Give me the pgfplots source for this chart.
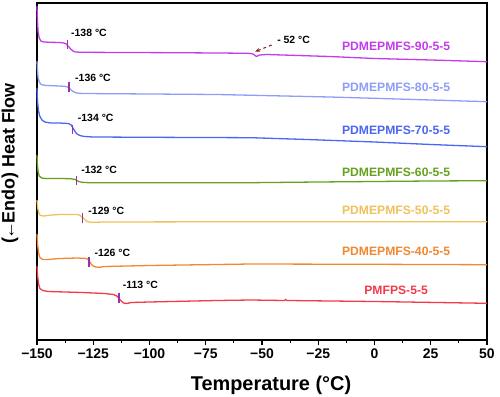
\documentclass[border=0pt]{standalone}
\usepackage{pgfplots}
\pgfplotsset{compat=1.18}
\usepackage{fontspec}
\setmainfont{Liberation Sans}
\usetikzlibrary{arrows.meta}
\definecolor{c90}{HTML}{C23CEB}
\definecolor{c80}{HTML}{8C9EF7}
\definecolor{c70}{HTML}{4A66F2}
\definecolor{c60}{HTML}{66A11E}
\definecolor{c50}{HTML}{EEC25A}
\definecolor{c40}{HTML}{F08832}
\definecolor{c00}{HTML}{F23A48}
\definecolor{tgm}{HTML}{9A2FA6}
\definecolor{arr}{HTML}{8B1A1A}
\begin{document}
\begin{tikzpicture}
\begin{axis}[
  at={(0,0)}, anchor=south west, scale only axis, width=450bp, height=337bp,
  xmin=-150, xmax=50, ymin=-340, ymax=-3,
  axis line style={line width=1.3pt},
  xtick={-150,-125,-100,-75,-50,-25,0,25,50},
  xticklabels={−150,−125,−100,−75,−50,−25,0,25,50},
  minor x tick num=1,
  ytick=\empty,
  tick align=outside, xtick pos=bottom,
  major tick length=5bp, minor tick length=3bp,
  every tick/.style={line width=1.2pt, black},
  xticklabel style={font=\fontsize{14}{16}\selectfont\bfseries},
  xlabel={Temperature (°C)}, ylabel={(\kern-2pt←\kern-2.5pt Endo) Heat Flow},
  every axis x label/.style={at={(axis description cs:0.52,0)}, yshift=-45bp, anchor=center, font=\fontsize{20}{24}\selectfont\bfseries},
  every axis y label/.style={at={(axis description cs:0,0.525)}, xshift=-27bp, rotate=90, anchor=center, font=\fontsize{18}{22}\selectfont\bfseries},
  clip=false,
  every axis plot/.append style={line width=1.3pt},
]
% PDMEPMFS-90-5-5
\addplot[c90] coordinates {(-150,-6)(-149.8,-20)(-149.5,-32)(-149.0,-38)(-148.3,-41)(-147,-42)(-144,-42.3)(-140,-42.5)(-138,-43)(-137,-44)(-136,-46.5)(-135,-49)(-134,-51)(-133,-52)(-130,-52.3)(-110,-52.5)(-90,-52.7)(-70,-53)(-56,-53.3)(-54,-54)(-52.5,-56.5)(-51,-55)(-48,-54.5)(-20,-56.5)(0,-58.5)(25,-60)(50,-61.7)};
% PDMEPMFS-80-5-5
\addplot[c80] coordinates {(-150,-61)(-149.8,-70)(-149.5,-78)(-149,-82)(-148.2,-84.5)(-146,-85.5)(-140,-86)(-137,-86.5)(-136,-87.5)(-135,-89.5)(-134,-91.5)(-132.5,-93)(-130,-93.5)(-100,-94)(-70,-94.5)(-50,-95.5)(-20,-97)(0,-98.3)(25,-100)(50,-101.7)};
% PDMEPMFS-70-5-5
\addplot[c70] coordinates {(-150,-88)(-149.8,-100)(-149.4,-110)(-148.8,-116)(-147.8,-120)(-146.5,-122)(-144,-123)(-140,-123)(-136,-123.5)(-134.8,-125)(-133.5,-130)(-132.5,-133.5)(-131,-135.5)(-129,-136.5)(-125,-137)(-100,-137.3)(-55,-137.7)(-30,-139.5)(0,-142)(25,-144.5)(50,-146.7)};
% PDMEPMFS-60-5-5
\addplot[c60] coordinates {(-150,-155)(-149.8,-165)(-149.5,-172)(-149,-176)(-148,-178)(-146,-178.5)(-140,-178.5)(-135,-178.7)(-133,-179.5)(-131.5,-181.5)(-130,-182.3)(-127,-182.7)(-100,-182.7)(-55,-182.7)(-25,-182)(0,-181.5)(25,-181)(50,-180.7)};
% PDMEPMFS-50-5-5
\addplot[c50] coordinates {(-150,-200)(-149.7,-208)(-149.2,-213)(-148.5,-215.5)(-147,-216)(-145,-215.3)(-140,-214.5)(-132,-214.5)(-130.8,-215.5)(-129,-219)(-127.8,-221.5)(-126,-222.3)(-120,-222)(-55,-221.7)(0,-221.7)(50,-221.7)};
% PDMEPMFS-40-5-5
\addplot[c40] coordinates {(-150,-234)(-149.7,-245)(-149.3,-253)(-148.7,-257.5)(-147.5,-259.5)(-145,-259.5)(-140,-258.5)(-132,-258)(-128,-258.5)(-127,-260)(-125.8,-264.5)(-124.5,-266.7)(-122.5,-267.3)(-120,-266.5)(-100,-265.5)(-55,-264)(0,-264.3)(50,-264.7)};
% PMFPS-5-5
\addplot[c00] coordinates {(-150,-266)(-149.7,-276)(-149.3,-284)(-148.7,-288.5)(-147.5,-290.5)(-145,-291.5)(-130,-292.5)(-120,-293.5)(-116,-294.5)(-114.5,-296)(-112.8,-300.5)(-111.5,-303)(-110.2,-303.5)(-108,-302.5)(-100,-302)(-70,-300.5)(-55,-300)(-40,-300.5)(-39.5,-299.5)(-39,-300.5)(0,-301.5)(50,-303.3)};
% Tg markers
\addplot[tgm] coordinates {(-136.5,-40)(-136.5,-49.3)};
\addplot[tgm] coordinates {(-135.8,-81.7)(-135.8,-91.7)};
\addplot[tgm] coordinates {(-134.1,-125)(-134.1,-134.3)};
\addplot[tgm] coordinates {(-132.4,-176)(-132.4,-185)};
\addplot[tgm] coordinates {(-129.9,-213.3)(-129.9,-222.7)};
\addplot[tgm] coordinates {(-126.9,-256.7)(-126.9,-266.7)};
\addplot[tgm] coordinates {(-113.6,-293.3)(-113.6,-303.3)};
% Tg labels
\begin{scope}[every node/.style={anchor=west, inner sep=0pt, font=\fontsize{10.5}{12}\selectfont\bfseries}]
\node at (axis cs:-134.9,-33) {-138 °C};
\node at (axis cs:-133.1,-78.3) {-136 °C};
\node at (axis cs:-131.9,-118.3) {-134 °C};
\node at (axis cs:-130.4,-170) {-132 °C};
\node at (axis cs:-127.2,-210.7) {-129 °C};
\node at (axis cs:-124.5,-252.7) {-126 °C};
\node at (axis cs:-111.9,-285) {-113 °C};
\node at (axis cs:-43.3,-40) {- 52 °C};
\end{scope}
\draw[arr, line width=1pt, dashed, -{Stealth[length=5bp]}] (axis cs:-45.7,-45) -- (axis cs:-53.1,-51.7);
% series labels
\begin{scope}[every node/.style={anchor=center, inner sep=0pt, font=\fontsize{12.2}{14}\selectfont\bfseries}]
\node[text=c90] at (axis cs:9.6,-46) {PDMEPMFS-90-5-5};
\node[text=c80] at (axis cs:9.6,-87) {PDMEPMFS-80-5-5};
\node[text=c70] at (axis cs:9.6,-130) {PDMEPMFS-70-5-5};
\node[text=c60] at (axis cs:9.6,-172) {PDMEPMFS-60-5-5};
\node[text=c50] at (axis cs:9.6,-210) {PDMEPMFS-50-5-5};
\node[text=c40] at (axis cs:9.6,-251.7) {PDMEPMFS-40-5-5};
\node[text=c00] at (axis cs:9.6,-290.7) {PMFPS-5-5};
\end{scope}
\end{axis}
\pgfresetboundingbox
\useasboundingbox (-37bp,-57bp) rectangle (463bp,340bp);
\end{tikzpicture}
\end{document}
